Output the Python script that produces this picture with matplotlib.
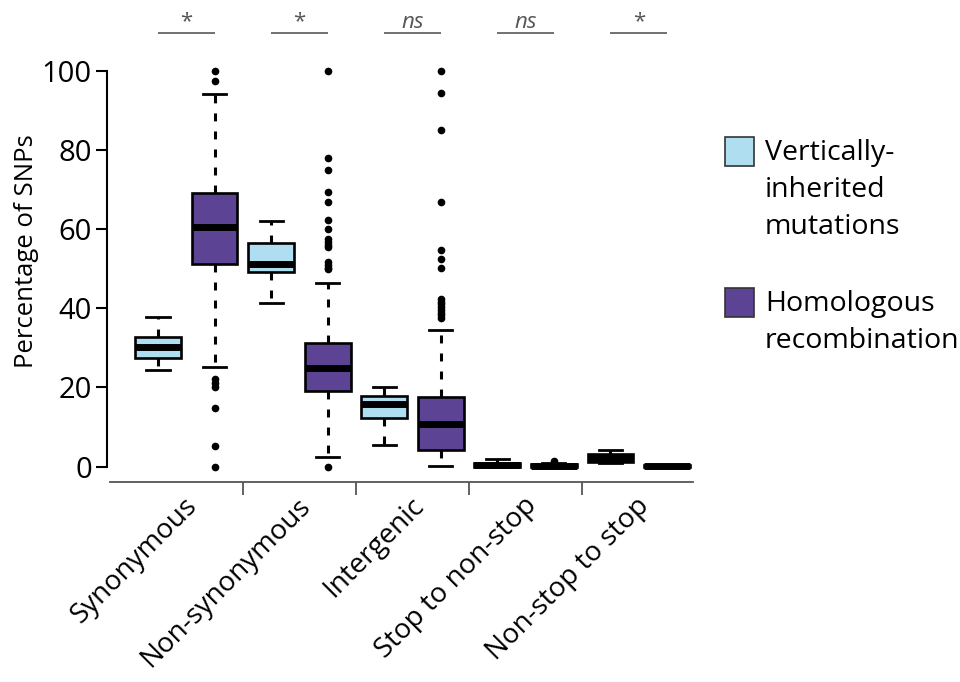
import matplotlib
matplotlib.use("Agg")
import matplotlib.pyplot as plt
from matplotlib.patches import Rectangle
from matplotlib.transforms import ScaledTranslation

plt.rcParams['font.family'] = ['Open Sans', 'DejaVu Sans']

# Mutation classes and the two SNP sources
categories = ["Synonymous", "Non-synonymous", "Intergenic", "Stop to non-stop", "Non-stop to stop"]
series = ["Vertically-\ninherited\nmutations", "Homologous\nrecombination"]
significance = ["*", "*", "ns", "ns", "*"]

# Box summaries (percentage of SNPs), one entry per category
vi_q1 = [27.4, 49.2, 12.4, 0.0, 1.3]
vi_med = [30.2, 51.2, 15.8, 0.4, 2.2]
vi_q3 = [32.7, 56.6, 17.9, 1.0, 3.3]
vi_lo = [24.4, 41.3, 5.5, 0.0, 1.0]
vi_hi = [37.9, 62.1, 20.2, 1.9, 4.3]
vi_fliers = [[], [], [], [], []]

hr_q1 = [51.2, 19.1, 4.2, 0.0, 0.0]
hr_med = [60.6, 24.8, 10.7, 0.2, 0.1]
hr_q3 = [69.2, 31.2, 17.5, 0.6, 0.3]
hr_lo = [25.2, 2.5, 0.2, 0.0, 0.0]
hr_hi = [94.0, 46.5, 34.5, 0.8, 0.4]
hr_fliers = [
    [100.0, 97.5, 22.2, 21.2, 20.1, 14.9, 5.2, 0.0],
    [100.0, 77.9, 74.9, 69.3, 66.8, 62.3, 60.0, 57.4, 56.7, 56.0, 55.4,
     51.8, 51.0, 50.3, 49.8, 0.0],
    [100.0, 94.5, 85.0, 66.8, 54.7, 52.4, 50.1, 42.4, 41.7, 41.0, 40.3,
     39.6, 38.9, 38.2, 37.6],
    [1.4],
    [],
]

VI_COLOR = "#afdef0"
HR_COLOR = "#5d4394"

fig = plt.figure(figsize=(9.6, 6.82), dpi=100)
ax = fig.add_axes([0.1116, 0.2931, 0.6185, 0.6264])

def stats(q1, med, q3, lo, hi, fl):
    return [dict(q1=a, med=b, q3=c, whislo=d, whishi=e, fliers=f)
            for a, b, c, d, e, f in zip(q1, med, q3, lo, hi, fl)]

n = len(categories)
vi_pos = [2 * i + 1 for i in range(n)]
hr_pos = [2 * i + 2 for i in range(n)]

common = dict(
    widths=0.81, capwidths=0.41, patch_artist=True, manage_ticks=False,
    medianprops=dict(color="black", linewidth=5.0, solid_capstyle="butt"),
    whiskerprops=dict(color="black", linewidth=2.2, linestyle=(0, (2.6, 3.3))),
    capprops=dict(color="black", linewidth=2.0),
    flierprops=dict(marker="o", markerfacecolor="black", markeredgecolor="black",
                    markersize=4.5, linestyle="none"),
)
b1 = ax.bxp(stats(vi_q1, vi_med, vi_q3, vi_lo, vi_hi, vi_fliers), positions=vi_pos,
            boxprops=dict(facecolor=VI_COLOR, edgecolor="black", linewidth=1.9), **common)
b2 = ax.bxp(stats(hr_q1, hr_med, hr_q3, hr_lo, hr_hi, hr_fliers), positions=hr_pos,
            boxprops=dict(facecolor=HR_COLOR, edgecolor="black", linewidth=1.9), **common)
for art in b1["fliers"] + b2["fliers"]:
    art.set_clip_on(False)

ax.set_xlim(0.1, 10.6)
ax.set_ylim(-3.9, 104)

# Axes frame: y axis from 0 to 100, detached grey baseline underneath
for side in ("top", "right"):
    ax.spines[side].set_visible(False)
ax.spines["left"].set_bounds(0, 100)
ax.spines["left"].set_linewidth(1.5)
ax.spines["bottom"].set_bounds(0.15, 10.46)
ax.spines["bottom"].set_linewidth(1.3)
ax.spines["bottom"].set_color("#555555")

ax.set_yticks([0, 20, 40, 60, 80, 100])
ax.tick_params(axis="y", length=8, width=1.5, pad=3, labelsize=21)

group_centers = [2 * i + 1.5 for i in range(n)]
separators = [2 * i + 2.5 for i in range(n - 1)]
ax.set_xticks(group_centers)
ax.set_xticklabels(categories, rotation=45, ha="right", va="top",
                   rotation_mode="anchor", fontsize=20)
ax.set_xticks(separators, minor=True)
ax.tick_params(axis="x", which="major", length=0, pad=7)
ax.tick_params(axis="x", which="minor", length=9, width=1.3, color="#555555")
for lab in ax.get_xticklabels():
    lab.set_transform(lab.get_transform() + ScaledTranslation(-0.03, 0, fig.dpi_scale_trans))

fig.text(27 / 960, 1 - 251 / 682, "Percentage of SNPs", rotation=90,
         ha="center", va="center", fontsize=18.5)

# Significance marks above each pair
for i, mark in enumerate(significance):
    ax.plot([vi_pos[i], hr_pos[i]], [109.5, 109.5], color="#666666", lw=1.3,
            clip_on=False, solid_capstyle="butt")
    style = "italic" if mark == "ns" else "normal"
    ax.text(group_centers[i], 112.3, mark, ha="center", va="center",
            fontsize=16, color="#555555", style=style, clip_on=False)

# Legend
for (y0, color), label in zip([(137, VI_COLOR), (288, HR_COLOR)], series):
    fig.add_artist(Rectangle((725 / 960, 1 - (y0 + 29) / 682), 29 / 960, 29 / 682,
                             facecolor=color, edgecolor="#333333", linewidth=1.2,
                             transform=fig.transFigure))
    fig.text(765 / 960, 1 - (y0 + 2) / 682, label, ha="left", va="top",
             fontsize=20.5, linespacing=1.42)

fig.savefig("out.png", dpi=100)
